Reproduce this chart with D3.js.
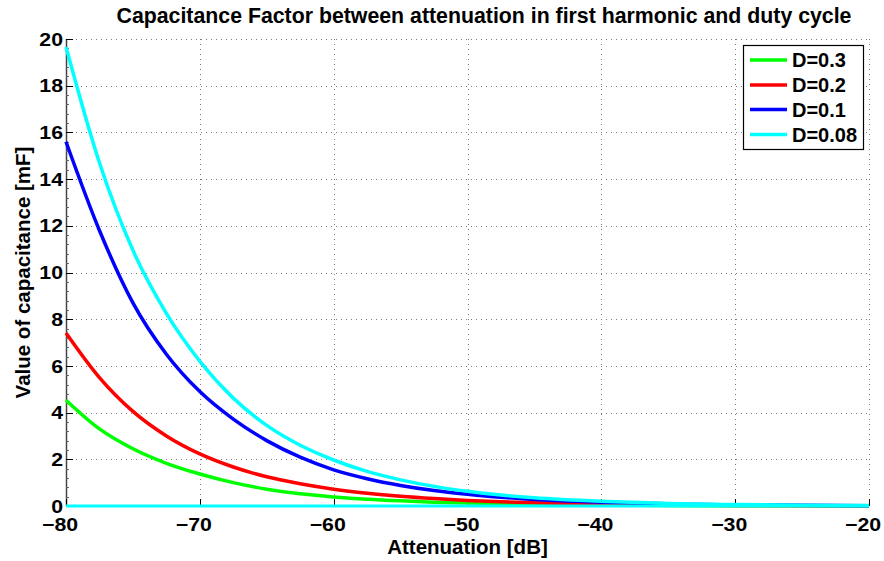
<!DOCTYPE html>
<html>
<head>
<meta charset="utf-8">
<script src="https://cdn.jsdelivr.net/npm/d3@7"></script>
<style>
  html, body { margin: 0; padding: 0; background: #fff; }
  svg { display: block; font-family: "Liberation Sans", Arial, Helvetica, sans-serif; font-weight: bold; }
</style>
</head>
<body>
<svg id="chart" width="884" height="561"></svg>
<script>
// Attenuation samples (dB)
const attenuation = [-80, -77.5, -75, -72.5, -70, -67.5, -65, -62.5, -60, -57.5, -55, -52.5, -50, -47.5, -45, -40, -35, -30, -25, -20];

// Capacitance (mF) for each duty cycle
const capD030 = [4.53, 3.30, 2.45, 1.83, 1.37, 1.00, 0.72, 0.52, 0.39, 0.29, 0.22, 0.165, 0.125, 0.093, 0.07, 0.039, 0.022, 0.012, 0.007, 0.004];
const capD020 = [7.41, 5.50, 4.05, 3.00, 2.23, 1.67, 1.25, 0.95, 0.72, 0.55, 0.42, 0.32, 0.24, 0.18, 0.135, 0.076, 0.043, 0.024, 0.013, 0.007];
const capD010 = [15.6, 11.8, 8.70, 6.50, 4.90, 3.72, 2.80, 2.09, 1.55, 1.17, 0.88, 0.66, 0.50, 0.37, 0.28, 0.16, 0.09, 0.05, 0.028, 0.016];
const capD008 = [19.66, 14.7, 10.95, 8.25, 6.20, 4.62, 3.45, 2.60, 1.97, 1.48, 1.12, 0.84, 0.63, 0.47, 0.35, 0.20, 0.11, 0.062, 0.035, 0.02];
// Reference trace along zero
const zeroTrace = [0, 0, 0, 0, 0, 0, 0, 0, 0, 0, 0, 0, 0, 0, 0, 0, 0, 0, 0, 0];

const seriesNames = ["D=0.3", "D=0.2", "D=0.1", "D=0.08"];
const seriesColors = ["#00ff00", "#ff0000", "#0000ff", "#00ffff"];
const seriesValues = [capD030, capD020, capD010, capD008];

const xTicks = [-80, -70, -60, -50, -40, -30, -20];
const yTicks = [0, 2, 4, 6, 8, 10, 12, 14, 16, 18, 20];

const titleText = "Capacitance Factor between attenuation in first harmonic and duty cycle";
const xLabelText = "Attenuation [dB]";
const yLabelText = "Value of capacitance [mF]";

const svg = d3.select("#chart");
const plotLeft = 66, plotRight = 869, plotTop = 39, plotBottom = 506;

const x = d3.scaleLinear().domain([-80, -20]).range([plotLeft, plotRight]);
const y = d3.scaleLinear().domain([0, 20]).range([plotBottom, plotTop]);
const minus = s => String(s).replace("-", "\u2212");
const tickScaleX = 1.12;

// grid
const grid = svg.append("g").attr("stroke", "#7a7a7a").attr("stroke-width", 1).attr("stroke-dasharray", "1,4");
grid.selectAll("line.gx").data(xTicks.slice(1)).join("line")
  .attr("x1", d => Math.round(x(d)) + 0.5).attr("x2", d => Math.round(x(d)) + 0.5)
  .attr("y1", plotTop).attr("y2", plotBottom);
grid.selectAll("line.gy").data(yTicks.slice(1)).join("line")
  .attr("x1", plotLeft).attr("x2", plotRight)
  .attr("y1", d => Math.round(y(d)) + 0.5).attr("y2", d => Math.round(y(d)) + 0.5);

// left axis with minor ticks
const axis = svg.append("g");
axis.append("line").attr("x1", plotLeft + 0.5).attr("x2", plotLeft + 0.5).attr("y1", plotTop).attr("y2", plotBottom)
  .attr("stroke", "#444").attr("stroke-width", 1.5);
axis.selectAll("line.minor").data(d3.range(0, 20.01, 0.4)).join("line")
  .attr("x1", plotLeft).attr("x2", plotLeft + 3)
  .attr("y1", d => Math.round(y(d)) + 0.5).attr("y2", d => Math.round(y(d)) + 0.5)
  .attr("stroke", "#666").attr("stroke-width", 1);
axis.selectAll("line.ytick").data(yTicks).join("line")
  .attr("x1", plotLeft).attr("x2", plotLeft + 7)
  .attr("y1", d => Math.round(y(d)) + 0.5).attr("y2", d => Math.round(y(d)) + 0.5)
  .attr("stroke", "#000").attr("stroke-width", 1);
axis.selectAll("line.xtick").data(xTicks).join("line")
  .attr("x1", d => Math.round(x(d)) + 0.5).attr("x2", d => Math.round(x(d)) + 0.5)
  .attr("y1", plotBottom).attr("y2", plotBottom - 7)
  .attr("stroke", "#000").attr("stroke-width", 1);
axis.append("line").attr("x1", plotLeft).attr("x2", plotRight).attr("y1", plotBottom + 0.5).attr("y2", plotBottom + 0.5)
  .attr("stroke", "#000").attr("stroke-width", 1);

// tick labels (slightly widened glyphs)
svg.append("g").selectAll("text").data(yTicks).join("text")
  .attr("transform", d => `translate(63,${y(d)}) scale(${tickScaleX},1)`)
  .attr("dy", "0.35em")
  .attr("text-anchor", "end").attr("font-size", 19).attr("fill", "#000")
  .text(d => minus(d));
svg.append("g").selectAll("text").data(xTicks).join("text")
  .attr("transform", d => `translate(${x(d) - 6},531) scale(${tickScaleX},1)`)
  .attr("text-anchor", "middle").attr("font-size", 19).attr("fill", "#000")
  .text(d => minus(d));

// curves
const line = d3.line().x((d, i) => x(attenuation[i])).y(d => y(d)).curve(d3.curveMonotoneX);
const curves = svg.append("g").attr("fill", "none").attr("stroke-width", 3.5).attr("stroke-linejoin", "round");
seriesValues.forEach((vals, k) => {
  curves.append("path").attr("d", line(vals)).attr("stroke", seriesColors[k]);
});
curves.append("path").attr("d", line(zeroTrace)).attr("stroke", seriesColors[3]).attr("stroke-width", 3);

// title and axis labels
svg.append("text").attr("x", 484).attr("y", 23).attr("text-anchor", "middle")
  .attr("font-size", 21.3).attr("fill", "#000").text(titleText);
svg.append("text").attr("x", 467.5).attr("y", 553.5).attr("text-anchor", "middle")
  .attr("font-size", 20.5).attr("fill", "#000").text(xLabelText);
svg.append("text").attr("transform", "translate(30,272.5) rotate(-90)").attr("text-anchor", "middle")
  .attr("font-size", 20.5).attr("fill", "#000").text(yLabelText);

// legend
const legend = svg.append("g");
legend.append("rect").attr("x", 743.5).attr("y", 45.5).attr("width", 120).attr("height", 104)
  .attr("fill", "#fff").attr("stroke", "#000").attr("stroke-width", 1.2);
const rowY = [60, 85, 109.5, 134.5];
seriesNames.forEach((name, k) => {
  legend.append("line").attr("x1", 750).attr("x2", 787).attr("y1", rowY[k]).attr("y2", rowY[k])
    .attr("stroke", seriesColors[k]).attr("stroke-width", 3.5);
  legend.append("text").attr("x", 792).attr("y", rowY[k]).attr("dy", "0.36em")
    .attr("font-size", 20).attr("fill", "#000").text(name);
});
</script>
</body>
</html>
